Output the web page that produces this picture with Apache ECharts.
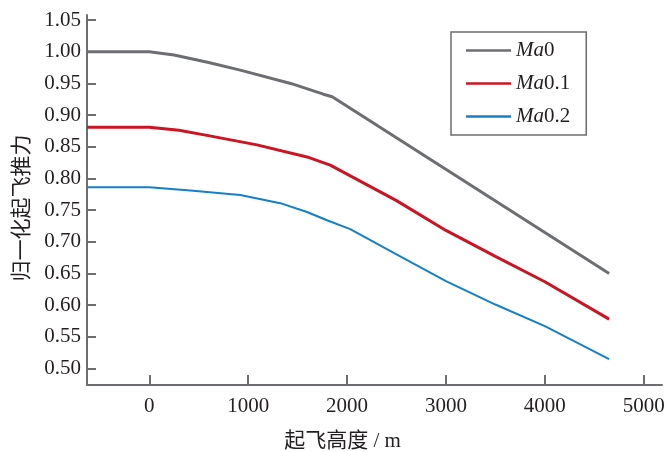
<!DOCTYPE html>
<html lang="zh">

<head>
  <meta charset="UTF-8">
  <title>归一化起飞推力</title>
  <style>
    html, body { margin: 0; padding: 0; background: #fff; }
  </style>
</head>

<body>
  <div id="main" style="width: 666px;height:452px;"></div>
  <script src="https://cdn.jsdelivr.net/npm/echarts@6/dist/echarts.min.js"></script>
  <script>
    // 起飞高度 / m 及各马赫数下的归一化推力
    const ma0X = [-630, 0, 250, 600, 920, 1430, 1760, 1850, 4650];
    const ma0Y = [1.0, 1.0, 0.995, 0.983, 0.971, 0.950, 0.933, 0.929, 0.650];
    const ma01X = [-630, 0, 300, 583, 1089, 1595, 1830, 2500, 3000, 3500, 4000, 4650];
    const ma01Y = [0.881, 0.881, 0.876, 0.868, 0.853, 0.834, 0.821, 0.765, 0.718, 0.677, 0.637, 0.578];
    const ma02X = [-630, 0, 415, 920, 1325, 1595, 1797, 2032, 2500, 3000, 3500, 4000, 4650];
    const ma02Y = [0.786, 0.786, 0.781, 0.774, 0.761, 0.747, 0.734, 0.720, 0.680, 0.638, 0.601, 0.567, 0.515];

    const xTicks = [0, 1000, 2000, 3000, 4000, 5000];
    const yTicks = [0.50, 0.55, 0.60, 0.65, 0.70, 0.75, 0.80, 0.85, 0.90, 0.95, 1.00, 1.05];

    const seriesNames = ['Ma0', 'Ma0.1', 'Ma0.2'];
    const colors = ['#6d6e71', '#cc1424', '#1480c8'];
    const widths = [3, 3, 2];

    const axisColor = '#6d6e71';
    const textColor = '#231f20';
    const serif = '"Liberation Serif", "Noto Sans CJK SC", serif';

    const zip = (xs, ys) => xs.map((x, i) => [x, ys[i]]);
    const allData = [zip(ma0X, ma0Y), zip(ma01X, ma01Y), zip(ma02X, ma02Y)];

    const myChart = echarts.init(document.getElementById('main'));

    const option = {
      animation: false,
      backgroundColor: '#fff',
      grid: { left: 87, right: 4, top: 15, bottom: 67, outerBoundsMode: 'none', containLabel: false },
      legend: {
        orient: 'vertical',
        left: 451,
        top: 32,
        padding: [8, 16, 8, 15],
        itemGap: 12,
        itemWidth: 45,
        itemHeight: 2.5,
        icon: 'rect',
        borderColor: axisColor,
        borderWidth: 1.5,
        data: seriesNames,
        formatter: (name) => '{i|Ma}' + name.slice(2),
        textStyle: {
          fontFamily: serif,
          fontSize: 21,
          color: textColor,
          rich: {
            i: { fontFamily: serif, fontStyle: 'italic', fontSize: 21, color: textColor }
          }
        }
      },
      xAxis: {
        type: 'value',
        min: -630,
        max: 5185,
        name: '起飞高度 / m',
        nameLocation: 'middle',
        nameGap: 46,
        nameTextStyle: {
          fontFamily: serif, fontSize: 21, color: textColor, padding: [0, 64, 0, 0]
        },
        axisLine: { show: true, onZero: false, lineStyle: { color: axisColor, width: 2 } },
        axisTick: { show: true, inside: true, length: 10, customValues: xTicks, lineStyle: { color: axisColor, width: 2 } },
        axisLabel: {
          customValues: xTicks, fontFamily: serif, fontSize: 21, color: textColor, margin: 11,
          formatter: (v) => String(v)
        },
        splitLine: { show: false }
      },
      yAxis: {
        type: 'value',
        min: 0.474,
        max: 1.058,
        name: '归一化起飞推力',
        nameLocation: 'middle',
        nameGap: 53,
        nameRotate: 90,
        nameTextStyle: { fontFamily: serif, fontSize: 21, color: textColor, padding: [0, 16, 0, 0] },
        axisLine: { show: true, onZero: false, lineStyle: { color: axisColor, width: 2 } },
        axisTick: { show: true, inside: true, length: 9, customValues: yTicks, lineStyle: { color: axisColor, width: 2 } },
        axisLabel: {
          customValues: yTicks,
          fontFamily: serif, fontSize: 21, color: textColor, margin: 6,
          formatter: (v) => v.toFixed(2)
        },
        splitLine: { show: false }
      },
      series: allData.map((d, i) => ({
        name: seriesNames[i],
        type: 'line',
        data: d,
        symbol: 'none',
        color: colors[i],
        lineStyle: { color: colors[i], width: widths[i] }
      }))
    };

    myChart.setOption(option);
  </script>
</body>

</html>
